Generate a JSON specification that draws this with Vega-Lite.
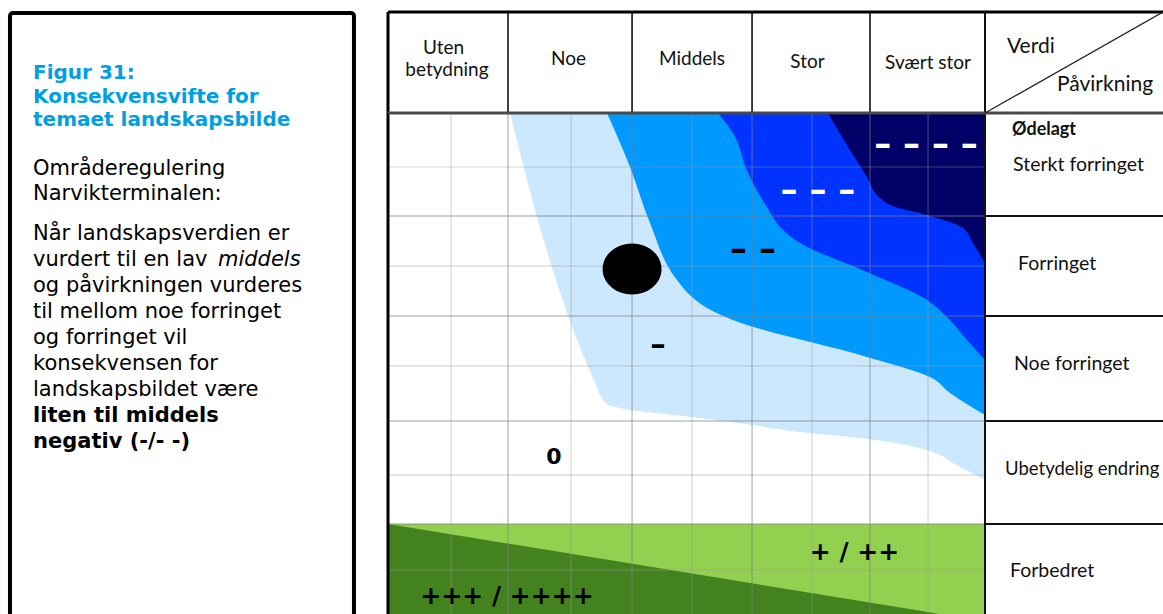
{
  "$schema": "https://vega.github.io/schema/vega-lite/v6.json",
  "width": 1163,
  "height": 614,
  "autosize": {"type": "fit", "contains": "padding"},
  "padding": 0,
  "background": "white",
  "config": {"view": {"stroke": null}},
  "datasets": {
    "ramme": [{"u": -3.166, "v": -0.976, "u2": -0.285, "v2": 5.3}],
    "venstre": [
      {"u": -2.973, "v": -0.332, "tekst": "Figur 31:", "stil": "tittel"},
      {"u": -2.973, "v": -0.102, "tekst": "Konsekvensvifte for", "stil": "tittel"},
      {"u": -2.973, "v": 0.127, "tekst": "temaet landskapsbilde", "stil": "tittel"},
      {"u": -2.973, "v": 0.605, "tekst": "Områderegulering", "stil": "brod"},
      {"u": -2.973, "v": 0.849, "tekst": "Narvikterminalen:", "stil": "brod"},
      {"u": -2.973, "v": 1.239, "tekst": "Når landskapsverdien er", "stil": "brod"},
      {"u": -2.973, "v": 1.493, "tekst": "vurdert til en lav", "stil": "brod"},
      {"u": -1.424, "v": 1.493, "tekst": "middels", "stil": "kursiv"},
      {"u": -2.973, "v": 1.746, "tekst": "og påvirkningen vurderes", "stil": "brod"},
      {"u": -2.973, "v": 2.0, "tekst": "til mellom noe forringet", "stil": "brod"},
      {"u": -2.973, "v": 2.254, "tekst": "og forringet vil", "stil": "brod"},
      {"u": -2.973, "v": 2.507, "tekst": "konsekvensen for", "stil": "brod"},
      {"u": -2.973, "v": 2.761, "tekst": "landskapsbildet være", "stil": "brod"},
      {"u": -2.973, "v": 3.015, "tekst": "liten til middels", "stil": "fet"},
      {"u": -2.973, "v": 3.268, "tekst": "negativ (-/- -)", "stil": "fet"}
    ],
    "lysgront": [{"u": 0, "v": 4.01, "u2": 5, "v2": 5.0}],
    "morkgront": [{"u": 0, "v": 4.01}, {"u": 4.623, "v": 4.8878}],
    "band": [
      {"b": 1, "v": 0, "u": 1.022}, {"b": 1, "v": 2.673, "u": 1.75}, {"b": 1, "v": 2.78, "u": 1.792},
      {"b": 1, "v": 2.849, "u": 1.851}, {"b": 1, "v": 2.888, "u": 1.985}, {"b": 1, "v": 2.976, "u": 2.613},
      {"b": 1, "v": 3.044, "u": 3.049}, {"b": 1, "v": 3.112, "u": 3.451}, {"b": 1, "v": 3.171, "u": 3.953},
      {"b": 1, "v": 3.288, "u": 4.514}, {"b": 1, "v": 3.346, "u": 4.64}, {"b": 1, "v": 3.415, "u": 4.732},
      {"b": 1, "v": 3.502, "u": 4.874}, {"b": 1, "v": 3.58, "u": 5.0},
      {"b": 2, "v": 0, "u": 1.834}, {"b": 2, "v": 0.527, "u": 2.027}, {"b": 2, "v": 1.073, "u": 2.194},
      {"b": 2, "v": 1.629, "u": 2.42}, {"b": 2, "v": 1.795, "u": 2.546}, {"b": 2, "v": 1.902, "u": 2.672},
      {"b": 2, "v": 2.02, "u": 2.889}, {"b": 2, "v": 2.38, "u": 4.012}, {"b": 2, "v": 2.576, "u": 4.539},
      {"b": 2, "v": 2.732, "u": 4.707}, {"b": 2, "v": 2.946, "u": 5.0},
      {"b": 3, "v": 0, "u": 2.764}, {"b": 3, "v": 0.195, "u": 2.889}, {"b": 3, "v": 0.585, "u": 3.015},
      {"b": 3, "v": 0.917, "u": 3.174}, {"b": 3, "v": 1.141, "u": 3.308}, {"b": 3, "v": 1.268, "u": 3.451},
      {"b": 3, "v": 1.551, "u": 4.012}, {"b": 3, "v": 1.824, "u": 4.514}, {"b": 3, "v": 1.99, "u": 4.682},
      {"b": 3, "v": 2.215, "u": 4.849}, {"b": 3, "v": 2.41, "u": 5.0},
      {"b": 4, "v": 0, "u": 3.685}, {"b": 4, "v": 0.361, "u": 3.869}, {"b": 4, "v": 0.624, "u": 4.012},
      {"b": 4, "v": 0.829, "u": 4.121}, {"b": 4, "v": 0.907, "u": 4.229}, {"b": 4, "v": 0.995, "u": 4.514},
      {"b": 4, "v": 1.122, "u": 4.816}, {"b": 4, "v": 1.268, "u": 4.899}, {"b": 4, "v": 1.463, "u": 5.0}
    ],
    "linjer": [
      {"type": "fin", "u": 0.528, "v": 0, "u2": 0.528, "v2": 4.95},
      {"type": "fin", "u": 1.533, "v": 0, "u2": 1.533, "v2": 4.95},
      {"type": "fin", "u": 2.546, "v": 0, "u2": 2.546, "v2": 4.95},
      {"type": "fin", "u": 3.551, "v": 0, "u2": 3.551, "v2": 4.95},
      {"type": "fin", "u": 4.523, "v": 0, "u2": 4.523, "v2": 4.95},
      {"type": "fin", "u": 0, "v": 0.527, "u2": 5, "v2": 0.527},
      {"type": "fin", "u": 0, "v": 1.493, "u2": 5, "v2": 1.493},
      {"type": "fin", "u": 0, "v": 2.468, "u2": 5, "v2": 2.468},
      {"type": "fin", "u": 0, "v": 3.532, "u2": 5, "v2": 3.532},
      {"type": "fin", "u": 0, "v": 4.459, "u2": 5, "v2": 4.459},
      {"type": "grov", "u": 1.005, "v": 0, "u2": 1.005, "v2": 4.95},
      {"type": "grov", "u": 2.044, "v": 0, "u2": 2.044, "v2": 4.95},
      {"type": "grov", "u": 3.049, "v": 0, "u2": 3.049, "v2": 4.95},
      {"type": "grov", "u": 4.037, "v": 0, "u2": 4.037, "v2": 4.95},
      {"type": "grov", "u": 0, "v": 1.005, "u2": 5, "v2": 1.005},
      {"type": "grov", "u": 0, "v": 1.98, "u2": 5, "v2": 1.98},
      {"type": "grov", "u": 0, "v": 3.005, "u2": 5, "v2": 3.005},
      {"type": "grov", "u": 0, "v": 4.01, "u2": 5, "v2": 4.01},
      {"type": "ramme", "u": 0, "v": -0.985, "u2": 6.6, "v2": -0.985},
      {"type": "ramme", "u": 0, "v": -0.985, "u2": 0, "v2": 4.95},
      {"type": "skille", "u": 1.005, "v": -0.985, "u2": 1.005, "v2": 0},
      {"type": "skille", "u": 2.044, "v": -0.985, "u2": 2.044, "v2": 0},
      {"type": "skille", "u": 3.049, "v": -0.985, "u2": 3.049, "v2": 0},
      {"type": "skille", "u": 4.037, "v": -0.985, "u2": 4.037, "v2": 0},
      {"type": "kant", "u": 5, "v": -0.985, "u2": 5, "v2": 4.95},
      {"type": "kant", "u": 5, "v": 1.005, "u2": 6.6, "v2": 1.005},
      {"type": "kant", "u": 5, "v": 1.98, "u2": 6.6, "v2": 1.98},
      {"type": "kant", "u": 5, "v": 3.005, "u2": 6.6, "v2": 3.005},
      {"type": "kant", "u": 5, "v": 4.01, "u2": 6.6, "v2": 4.01},
      {"type": "hode", "u": 0, "v": 0, "u2": 6.6, "v2": 0},
      {"type": "diagonal", "u": 5, "v": 0, "u2": 6.49, "v2": -0.985}
    ],
    "etiketter": [
      {"u": 0.465, "v": -0.634, "tekst": "Uten", "stil": "kol"},
      {"u": 0.494, "v": -0.42, "tekst": "betydning", "stil": "kol"},
      {"u": 1.512, "v": -0.527, "tekst": "Noe", "stil": "kol"},
      {"u": 2.546, "v": -0.527, "tekst": "Middels", "stil": "kol"},
      {"u": 3.513, "v": -0.498, "tekst": "Stor", "stil": "kol"},
      {"u": 4.523, "v": -0.488, "tekst": "Svært stor", "stil": "kol"},
      {"u": 5.184, "v": -0.644, "tekst": "Verdi", "stil": "hjorne"},
      {"u": 5.603, "v": -0.273, "tekst": "Påvirkning", "stil": "hjorne"},
      {"u": 5.226, "v": 0.166, "tekst": "Ødelagt", "stil": "odelagt"},
      {"u": 5.235, "v": 0.507, "tekst": "Sterkt forringet", "stil": "rad"},
      {"u": 5.276, "v": 1.473, "tekst": "Forringet", "stil": "rad"},
      {"u": 5.243, "v": 2.449, "tekst": "Noe forringet", "stil": "rad"},
      {"u": 5.168, "v": 3.473, "tekst": "Ubetydelig endring", "stil": "smal"},
      {"u": 5.209, "v": 4.468, "tekst": "Forbedret", "stil": "rad"}
    ],
    "symboler": [
      {"u": 4.506, "v": 0.312, "tekst": "– – – –", "stil": "hvit"},
      {"u": 3.601, "v": 0.761, "tekst": "– – –", "stil": "hvit"},
      {"u": 3.057, "v": 1.337, "tekst": "– –", "stil": "svart"},
      {"u": 2.261, "v": 2.263, "tekst": "–", "stil": "enkel"},
      {"u": 1.39, "v": 3.356, "tekst": "0", "stil": "null"},
      {"u": 3.907, "v": 4.283, "tekst": "+ / ++", "stil": "pluss"},
      {"u": 0.997, "v": 4.712, "tekst": "+++ / ++++", "stil": "pluss"}
    ],
    "punkt": [{"u": 2.044, "v": 1.522, "navn": "Områderegulering Narvikterminalen"}]
  },
  "encoding": {
    "x": {"field": "u", "type": "quantitative", "scale": {"domain": [-3.24958, 6.49079], "nice": false, "zero": false}, "axis": null},
    "y": {"field": "v", "type": "quantitative", "scale": {"domain": [-1.10244, 4.8878], "nice": false, "zero": false, "reverse": true}, "axis": null}
  },
  "layer": [
    {
      "data": {"name": "ramme"},
      "mark": {"type": "rect", "fill": "white", "stroke": "black", "strokeWidth": 4, "cornerRadius": 3, "clip": true},
      "encoding": {"x2": {"field": "u2"}, "y2": {"field": "v2"}}
    },
    {
      "data": {"name": "venstre"},
      "transform": [{"filter": "datum.stil == 'tittel'"}],
      "mark": {"type": "text", "font": "DejaVu Sans", "fontSize": 20, "fontWeight": "bold", "fill": "#009FE3", "align": "left", "baseline": "alphabetic", "clip": true},
      "encoding": {"text": {"field": "tekst"}}
    },
    {
      "data": {"name": "venstre"},
      "transform": [{"filter": "datum.stil == 'brod'"}],
      "mark": {"type": "text", "font": "DejaVu Sans", "fontSize": 21, "fill": "black", "align": "left", "baseline": "alphabetic", "clip": true},
      "encoding": {"text": {"field": "tekst"}}
    },
    {
      "data": {"name": "venstre"},
      "transform": [{"filter": "datum.stil == 'kursiv'"}],
      "mark": {"type": "text", "font": "DejaVu Sans", "fontSize": 21, "fontStyle": "italic", "fill": "black", "align": "left", "baseline": "alphabetic", "clip": true},
      "encoding": {"text": {"field": "tekst"}}
    },
    {
      "data": {"name": "venstre"},
      "transform": [{"filter": "datum.stil == 'fet'"}],
      "mark": {"type": "text", "font": "DejaVu Sans", "fontSize": 21, "fontWeight": "bold", "fill": "black", "align": "left", "baseline": "alphabetic", "clip": true},
      "encoding": {"text": {"field": "tekst"}}
    },
    {
      "data": {"name": "lysgront"},
      "mark": {"type": "rect", "fill": "#92D050", "clip": true},
      "encoding": {"x2": {"field": "u2"}, "y2": {"field": "v2"}}
    },
    {
      "data": {"name": "morkgront"},
      "mark": {"type": "area", "orient": "horizontal", "color": "#43821F", "opacity": 1, "clip": true},
      "encoding": {"x2": {"datum": 0}}
    },
    {
      "data": {"name": "band"},
      "transform": [{"filter": "datum.b == 1"}],
      "mark": {"type": "area", "orient": "horizontal", "interpolate": "monotone", "color": "#CCE8FE", "opacity": 1},
      "encoding": {"x2": {"datum": 5}}
    },
    {
      "data": {"name": "band"},
      "transform": [{"filter": "datum.b == 2"}],
      "mark": {"type": "area", "orient": "horizontal", "interpolate": "monotone", "color": "#0099FF", "opacity": 1},
      "encoding": {"x2": {"datum": 5}}
    },
    {
      "data": {"name": "band"},
      "transform": [{"filter": "datum.b == 3"}],
      "mark": {"type": "area", "orient": "horizontal", "interpolate": "monotone", "color": "#0033FF", "opacity": 1},
      "encoding": {"x2": {"datum": 5}}
    },
    {
      "data": {"name": "band"},
      "transform": [{"filter": "datum.b == 4"}],
      "mark": {"type": "area", "orient": "horizontal", "interpolate": "monotone", "color": "#000066", "opacity": 1},
      "encoding": {"x2": {"datum": 5}}
    },
    {
      "data": {"name": "linjer"},
      "transform": [{"filter": "datum.type == 'fin'"}],
      "mark": {"type": "rule", "color": "#9a9a9a", "opacity": 0.4, "strokeWidth": 1.2, "clip": true},
      "encoding": {"x2": {"field": "u2"}, "y2": {"field": "v2"}}
    },
    {
      "data": {"name": "linjer"},
      "transform": [{"filter": "datum.type == 'grov'"}],
      "mark": {"type": "rule", "color": "#808080", "opacity": 0.5, "strokeWidth": 1.4, "clip": true},
      "encoding": {"x2": {"field": "u2"}, "y2": {"field": "v2"}}
    },
    {
      "data": {"name": "linjer"},
      "transform": [{"filter": "datum.type == 'ramme'"}],
      "mark": {"type": "rule", "color": "black", "strokeWidth": 3, "clip": true},
      "encoding": {"x2": {"field": "u2"}, "y2": {"field": "v2"}}
    },
    {
      "data": {"name": "linjer"},
      "transform": [{"filter": "datum.type == 'skille'"}],
      "mark": {"type": "rule", "color": "black", "strokeWidth": 1.5, "clip": true},
      "encoding": {"x2": {"field": "u2"}, "y2": {"field": "v2"}}
    },
    {
      "data": {"name": "linjer"},
      "transform": [{"filter": "datum.type == 'kant'"}],
      "mark": {"type": "rule", "color": "#111111", "strokeWidth": 2, "clip": true},
      "encoding": {"x2": {"field": "u2"}, "y2": {"field": "v2"}}
    },
    {
      "data": {"name": "linjer"},
      "transform": [{"filter": "datum.type == 'hode'"}],
      "mark": {"type": "rule", "color": "#4a4a4a", "strokeWidth": 3, "clip": true},
      "encoding": {"x2": {"field": "u2"}, "y2": {"field": "v2"}}
    },
    {
      "data": {"name": "linjer"},
      "transform": [{"filter": "datum.type == 'diagonal'"}],
      "mark": {"type": "rule", "color": "#222222", "strokeWidth": 1.3, "clip": true},
      "encoding": {"x2": {"field": "u2"}, "y2": {"field": "v2"}}
    },
    {
      "data": {"name": "etiketter"},
      "transform": [{"filter": "datum.stil == 'kol'"}],
      "mark": {"type": "text", "font": "Lato", "fontSize": 19, "fill": "#111111", "align": "center", "baseline": "middle", "clip": true},
      "encoding": {"text": {"field": "tekst"}}
    },
    {
      "data": {"name": "etiketter"},
      "transform": [{"filter": "datum.stil == 'hjorne'"}],
      "mark": {"type": "text", "font": "Lato", "fontSize": 21, "fill": "#111111", "align": "left", "baseline": "middle", "clip": true},
      "encoding": {"text": {"field": "tekst"}}
    },
    {
      "data": {"name": "etiketter"},
      "transform": [{"filter": "datum.stil == 'rad'"}],
      "mark": {"type": "text", "font": "Lato", "fontSize": 19.5, "fill": "#111111", "align": "left", "baseline": "middle", "clip": true},
      "encoding": {"text": {"field": "tekst"}}
    },
    {
      "data": {"name": "etiketter"},
      "transform": [{"filter": "datum.stil == 'smal'"}],
      "mark": {"type": "text", "font": "Lato", "fontSize": 18.5, "fill": "#111111", "align": "left", "baseline": "middle", "clip": true},
      "encoding": {"text": {"field": "tekst"}}
    },
    {
      "data": {"name": "etiketter"},
      "transform": [{"filter": "datum.stil == 'odelagt'"}],
      "mark": {"type": "text", "font": "Lato", "fontSize": 18, "fontWeight": "bold", "fill": "#111111", "align": "left", "baseline": "middle", "clip": true},
      "encoding": {"text": {"field": "tekst"}}
    },
    {
      "data": {"name": "symboler"},
      "transform": [{"filter": "datum.stil == 'hvit'"}],
      "mark": {"type": "text", "font": "DejaVu Sans", "fontSize": 34, "fontWeight": "bold", "fill": "white", "align": "center", "baseline": "middle", "clip": true},
      "encoding": {"text": {"field": "tekst"}}
    },
    {
      "data": {"name": "symboler"},
      "transform": [{"filter": "datum.stil == 'svart'"}],
      "mark": {"type": "text", "font": "DejaVu Sans", "fontSize": 34, "fontWeight": "bold", "fill": "black", "align": "center", "baseline": "middle", "clip": true},
      "encoding": {"text": {"field": "tekst"}}
    },
    {
      "data": {"name": "symboler"},
      "transform": [{"filter": "datum.stil == 'enkel'"}],
      "mark": {"type": "text", "font": "DejaVu Sans", "fontSize": 31, "fontWeight": "bold", "fill": "black", "align": "center", "baseline": "middle", "clip": true},
      "encoding": {"text": {"field": "tekst"}}
    },
    {
      "data": {"name": "symboler"},
      "transform": [{"filter": "datum.stil == 'null'"}],
      "mark": {"type": "text", "font": "DejaVu Sans", "fontSize": 22, "fontWeight": "bold", "fill": "black", "align": "center", "baseline": "middle", "clip": true},
      "encoding": {"text": {"field": "tekst"}}
    },
    {
      "data": {"name": "symboler"},
      "transform": [{"filter": "datum.stil == 'pluss'"}],
      "mark": {"type": "text", "font": "DejaVu Sans", "fontSize": 25, "fontWeight": "bold", "fill": "black", "align": "center", "baseline": "middle", "clip": true},
      "encoding": {"text": {"field": "tekst"}}
    },
    {
      "data": {"name": "punkt"},
      "mark": {"type": "point", "shape": "M 1 0 C 1 0.477 0.552 0.864 0 0.864 C -0.552 0.864 -1 0.477 -1 0 C -1 -0.477 -0.552 -0.864 0 -0.864 C 0.552 -0.864 1 -0.477 1 0 Z", "size": 3481, "filled": true, "color": "black", "opacity": 1, "strokeWidth": 0, "clip": true}
    }
  ]
}
